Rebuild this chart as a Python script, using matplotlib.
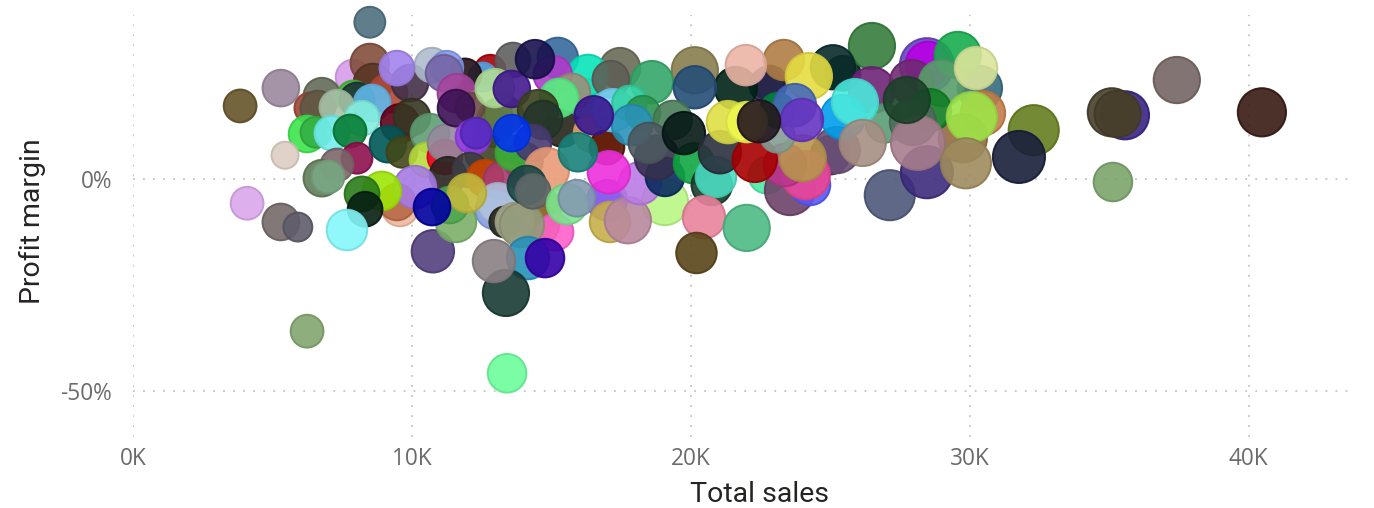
import numpy as np
import matplotlib
matplotlib.use("Agg")
import matplotlib.pyplot as plt
from matplotlib.colors import to_rgb

# values, back bubbles first
total_sales_k = [
    12.9, 13.0, 12.6, 13.3, 14.0, 15.4, 16.2, 25.45,
    12.8, 13.62, 15.23, 17.46, 20.14, 12.54, 11.9, 7.89, 8.49, 8.6,
    9.14, 9.93, 10.72, 11.25, 11.15, 6.77, 6.34, 6.63, 7.89, 8.03,
    9.46, 8.57, 7.31, 9.57, 8.21, 6.24, 6.56, 7.13, 7.78, 10.0,
    8.03, 7.31, 6.77, 6.99, 9.14, 9.64, 10.65, 10.54, 11.18, 11.22,
    11.61, 12.08, 11.58, 12.97, 13.58, 12.19, 12.3, 11.29, 12.08, 12.62,
    13.26, 12.97, 13.08, 13.33, 14.59, 14.59, 15.13, 13.69, 13.94, 14.16,
    13.37, 12.94, 14.77, 10.75, 9.57, 9.46, 11.58, 11.36, 10.11, 11.97,
    10.72, 8.92, 8.21, 8.32, 8.49, 3.84, 5.30, 5.45, 4.09, 5.30,
    5.91, 7.67, 6.24, 13.41, 40.47, 37.42, 35.13, 35.56, 35.09, 35.3,
    32.29, 31.76, 27.13, 28.46, 28.46, 28.5, 26.49, 25.09, 30.36, 30.47,
    29.75, 26.49, 27.92, 29.57, 29.0, 28.57, 26.95, 27.96, 28.14, 27.74,
    30.07, 30.22, 29.86, 24.98, 25.23, 25.45, 25.88, 26.16, 22.83, 22.72,
    23.33, 24.23, 21.61, 21.97, 18.6, 20.14, 16.31, 17.13, 15.05, 14.41,
    15.73, 15.27, 14.52, 14.7, 13.62, 14.34, 13.58, 14.84, 14.12, 14.34,
    16.49, 16.85, 16.99, 19.07, 16.99, 17.1, 17.74, 18.17, 17.06, 19.07,
    18.78, 20.11, 20.75, 17.2, 17.8, 18.28, 19.35, 17.89, 16.52, 15.95,
    18.49, 19.75, 20.9, 21.04, 22.72, 23.55, 24.27, 24.12, 23.37, 22.29,
    24.01, 23.1, 23.1, 21.33, 22.0, 23.73, 23.98, 22.44, 20.47, 22.0,
    20.2, 15.56, 15.91,
]
profit_margin = [
    12.0, 14.5, 6.0, 15.0, 4.0, 12.0, 19.0, 24.8,
    25.5, 27.9, 28.4, 26.0, 25.5, 23.9, 24.4, 23.9, 27.2, 22.5,
    20.1, 22.5, 26.7, 26.2, 24.8, 19.4, 16.6, 16.6, 19.2, 18.5,
    26.0, 17.8, 16.8, 13.0, 14.2, 10.5, 10.9, 10.7, 11.2, 14.5,
    4.8, 3.2, 0.1, 0.4, 8.1, 6.2, 10.7, 4.4, 5.1, 8.4,
    20.1, 16.8, 16.6, 21.3, 21.1, 9.8, 10.7, 0.8, 2.0, 0.1,
    -0.4, -7.4, -5.8, -10.2, -6.9, -10.9, -12.6, -10.2, -10.9, -18.7,
    -26.9, -19.4, -18.7, -17.1, -6.9, -5.5, -10.2, -6.2, -2.0, -3.4,
    -6.7, -2.9, -3.6, -7.2, 36.8, 17.1, 21.3, 5.5, -5.8, -10.2,
    -11.4, -12.1, -35.9, -45.8, 15.6, 23.2, -0.8, 14.9, 15.6, 15.2,
    11.4, 5.1, -3.9, 1.5, 26.7, 27.0, 31.2, 26.2, 21.3, 15.4,
    9.5, 20.8, 22.7, 29.1, 22.5, 16.1, 13.0, 13.3, 8.4, 18.5,
    14.5, 26.0, 3.6, 5.5, 6.7, 14.5, 18.0, 8.4, 22.5, 22.0,
    27.9, 24.1, 21.3, 26.7, 22.7, 21.5, 24.4, 23.4, 24.4, 28.1,
    20.4, 19.0, 16.1, 13.8, 6.0, 8.4, 10.7, 2.0, -1.5, -3.0,
    10.7, 8.3, 7.4, -5.5, -5.1, -10.2, -9.8, -1.1, 1.5, 0.4,
    5.0, 3.6, -1.5, 16.1, 17.8, 15.4, 13.8, 12.6, 14.9, 6.2,
    8.4, 10.7, 0.4, 6.2, 0.8, -2.7, -1.5, 0.8, 3.2, 4.4,
    4.8, 10.2, 16.1, 13.3, 13.3, 17.3, 13.8, 13.5, -9.1, -11.6,
    -17.5, -6.0, -4.6,
]
bubble_value = [
    20, 18, 20, 20, 20, 20, 20, 18,
    16, 18, 21, 21, 24, 15, 17, 18, 20, 20,
    20, 19, 18, 17, 19, 19, 16, 18, 17, 18,
    18, 19, 18, 20, 18, 19, 16, 18, 17, 19,
    16, 17, 19, 17, 19, 16, 20, 18, 18, 19,
    20, 15, 19, 20, 19, 18, 16, 19, 18, 19,
    20, 20, 21, 16, 22, 20, 19, 20, 23, 22,
    24, 22, 20, 22, 19, 19, 21, 19, 22, 20,
    19, 20, 18, 18, 16, 17, 19, 14, 17, 19,
    15, 21, 17, 20, 25, 24, 20, 25, 25, 24,
    26, 27, 26, 27, 28, 23, 24, 23, 23, 23,
    25, 24, 23, 24, 24, 22, 20, 24, 28, 24,
    26, 22, 26, 20, 24, 23, 24, 24, 18, 18,
    21, 24, 22, 21, 22, 22, 21, 19, 20, 20,
    19, 20, 21, 20, 18, 19, 19, 23, 20, 18,
    20, 17, 18, 24, 21, 21, 24, 22, 22, 20,
    23, 21, 21, 22, 18, 18, 20, 21, 20, 20,
    21, 22, 21, 22, 19, 26, 21, 25, 22, 23,
    24, 18, 18, 22, 21, 22, 22, 22, 22, 24,
    21, 21, 19,
]
bubble_colors = [
    "#6a7a50", "#808050", "#505838", "#708858", "#38584a", "#3a3a30", "#60c8a0", "#1a3a38",
    "#b01020", "#6f6f6f", "#4a7aa8", "#7a7a68", "#958a60", "#62b0ec", "#3a2a2f", "#dca8ec", "#8f6050", "#6a4a3a",
    "#b85a4a", "#55455a", "#b8c4d4", "#8fa5ec", "#8575b0", "#737a6a", "#a85848", "#6f6a58", "#58c048", "#33484c",
    "#ab90f0", "#70c0ec", "#b0c8b0", "#701830", "#90f0e0", "#50e860", "#48b858", "#80f0f0", "#208a48", "#4a4a38",
    "#98285f", "#8a7578", "#6f8a68", "#88b090", "#106868", "#555a30", "#6fa880", "#c0e050", "#f01838", "#a095a8",
    "#b058a8", "#7a6058", "#4f2865", "#b8e0a0", "#55309a", "#a050e8", "#6840c8", "#3f3a38", "#505058", "#d05808",
    "#b04f80", "#90a8e8", "#b8c8e0", "#3a3a30", "#a08840", "#9a7a40", "#ff70d0", "#b0b498", "#a0a58a", "#3c9cc0",
    "#2f4f47", "#968d90", "#4a10b0", "#64528c", "#f0c0a8", "#c07858", "#88b878", "#60b060", "#b088e8", "#c8c050",
    "#0818a8", "#a8e820", "#3f8a30", "#20352a", "#5f7d8a", "#75653f", "#a595a8", "#e0d3c8", "#dfb0ee", "#837878",
    "#6f6c7a", "#90f8fb", "#8fae7d", "#7cfda5", "#4c302b", "#837473", "#88ad7a", "#4c3a90", "#5a5240", "#5a5240",
    "#758a35", "#30354f", "#5f6a87", "#50408a", "#7358c8", "#c014e8", "#4a8a50", "#22403f", "#4a7a8a", "#c88a5a",
    "#a07a50", "#7d3a85", "#7f3f80", "#2fb560", "#6aa87a", "#2a8a3a", "#6aa882", "#5f7a6c", "#b08a98", "#33553f",
    "#a8e85a", "#dfe8a5", "#a8976e", "#555060", "#7a5f85", "#18a8ee", "#5cebe0", "#b09a8f", "#4a4a38", "#3a3a60",
    "#b88a58", "#e8e055", "#12382e", "#edbcae", "#48b078", "#3a6085", "#20e8c0", "#6f6f68", "#b84fd0", "#2f2a60",
    "#a89a88", "#68ef90", "#4f5535", "#3a4a40", "#50b848", "#5a4f80", "#1248f0", "#eba585", "#2f5a58", "#707878",
    "#e8b078", "#e0c898", "#6a2818", "#c0f890", "#8a60f0", "#cdb85c", "#c095a8", "#c088e8", "#f045e0", "#22406f",
    "#4a4560", "#28ae55", "#2f5040", "#80d8f8", "#48d8b0", "#40a060", "#5a8a68", "#3f9dc0", "#4d2d9a", "#2f8f88",
    "#5f6a70", "#1f2f2c", "#5ce0c8", "#3f4450", "#60ecb0", "#7c5578", "#6868f8", "#f058a0", "#c04a98", "#b00a1a",
    "#c0a060", "#90a8a0", "#1a9050", "#e2e258", "#f0f860", "#5878c0", "#7548c8", "#3a2d35", "#eb8fa8", "#5fc090",
    "#6a5830", "#88e898", "#8fa5b8",
]

x_ticks = [0, 10, 20, 30, 40]
x_tick_labels = ["0K", "10K", "20K", "30K", "40K"]
y_ticks = [-50, 0]
y_tick_labels = ["-50%", "0%"]

W, H = 1374, 508
fig = plt.figure(figsize=(W / 100, H / 100), dpi=100)
ax = fig.add_axes([133 / W, 1 - 437 / H, (1352 - 133) / W, (437 - 15) / H])
ax.set_xlim(0, 43.7)
ax.set_ylim(-60.8, 38.5)

for side in ax.spines.values():
    side.set_visible(False)

# dotted grid, about one dot every 10 px
ax.set_xticks(x_ticks, x_tick_labels)
ax.set_yticks(y_ticks, y_tick_labels)
ax.grid(True, color="#c4c4c4", linewidth=1.3, linestyle=(0, (1, 4.55)), zorder=0)
ax.set_axisbelow(True)
ax.tick_params(axis="x", length=0, labelsize=16.3, labelcolor="#6b6b6b", pad=7)
ax.tick_params(axis="y", length=0, labelsize=16.3, labelcolor="#6b6b6b", pad=15)
for lab in ax.get_xticklabels() + ax.get_yticklabels():
    lab.set_fontfamily("Open Sans")

# the colours above are what shows on white, so undo the fill alpha
alpha = 0.9
seen = np.array([to_rgb(c) for c in bubble_colors])
base = np.clip((seen - (1 - alpha)) / alpha, 0, 1)
face = np.column_stack([base, np.full(len(base), alpha)])
edge = np.column_stack([base * 0.9, np.full(len(base), 0.95)])
sizes = (np.array(bubble_value) * 1.39) ** 2

ax.scatter(total_sales_k, profit_margin, s=sizes, c=face, edgecolors=edge,
           linewidths=1.4, zorder=3, clip_on=False)

fig.text(760 / W, 1 - 494 / H, "Total sales", ha="center", va="center",
         fontsize=20.5, fontfamily="Roboto", color="#252423")
fig.text(32 / W, 1 - 221 / H, "Profit margin", ha="center", va="center",
         rotation=90, fontsize=20.5, fontfamily="Roboto", color="#252423")

fig.savefig("out.png", dpi=100)
